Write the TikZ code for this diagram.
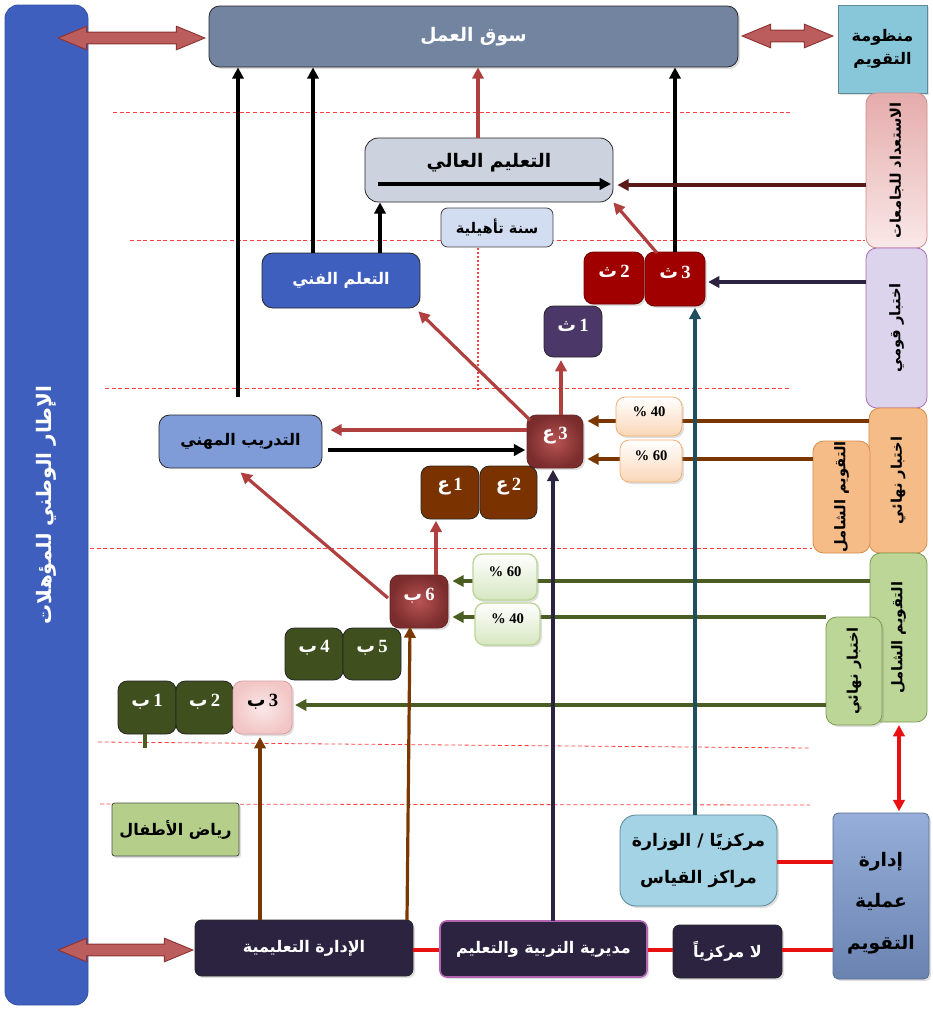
\documentclass[tikz,border=0pt]{standalone}
\usepackage{fontspec}
\setmainfont{Liberation Serif}
\newfontfamily\arfont[Script=Arabic]{DejaVu Sans}
\TeXXeTstate=1
\usetikzlibrary{arrows.meta,shapes.arrows,fit,shadows}
\newcommand{\AR}[1]{{\arfont\bfseries\beginR #1\endR}}
\newcommand{\ARL}[1]{{\arfont\bfseries #1}}
\definecolor{barblue}{HTML}{3F5FBF}
\definecolor{sooqc}{HTML}{7384A0}
\definecolor{tealc}{HTML}{88C6DA}
\definecolor{pinkc}{HTML}{F2C6C6}
\definecolor{lavc}{HTML}{DCD4EC}
\definecolor{orc}{HTML}{F09A50}
\definecolor{orl}{HTML}{F6BC88}
\definecolor{grc}{HTML}{9CC068}
\definecolor{grl}{HTML}{BCD698}
\definecolor{mgmt}{HTML}{7C9AD0}
\definecolor{cent}{HTML}{7CC0D8}
\definecolor{darkb}{HTML}{2B2340}
\definecolor{kgc}{HTML}{B5CF8A}
\definecolor{hec}{HTML}{CDD3DE}
\definecolor{sanac}{HTML}{D3DDF2}
\definecolor{tadc}{HTML}{7F9BD8}
\definecolor{thc}{HTML}{A00000}
\definecolor{th1c}{HTML}{4B3868}
\definecolor{ac}{HTML}{7A3300}
\definecolor{bc}{HTML}{3F4F1E}
\definecolor{redarr}{HTML}{B04040}
\definecolor{dredarr}{HTML}{5A1A1A}
\definecolor{navyc}{HTML}{2B2340}
\definecolor{tealarr}{HTML}{1F4E5F}
\definecolor{brownc}{HTML}{7A3800}
\definecolor{greenc}{HTML}{4A5E23}
\definecolor{brightred}{HTML}{E81010}
\begin{document}
\begin{tikzpicture}[x=0.75pt,y=-0.75pt,
  box/.style={draw=black!85, line width=0.6pt, rounded corners=6pt, inner sep=0pt},
  shad/.style={drop shadow={opacity=0.25,shadow xshift=1.5pt,shadow yshift=-1.5pt}},
  arw/.style={-{Triangle[length=8.5pt,width=8.5pt]}},
  conn/.style={line width=2.4pt},
  guide/.style={draw=red!75, line width=0.6pt, dash pattern=on 3pt off 2pt},
  dblarr/.style={double arrow, draw=redarr!80!black, line width=0.7pt,
     top color=redarr!85, middle color=pinkc, bottom color=redarr!85, shading angle=0,
     inner xsep=0pt, inner ysep=4.1pt, double arrow head extend=4.4pt, double arrow tip angle=45},
  big/.style={font=\fontsize{14}{16}\selectfont},
  mid/.style={font=\fontsize{12}{14}\selectfont},
  sml/.style={font=\fontsize{11}{13}\selectfont},
  cell/.style={box, rounded corners=7pt, text=white, font=\fontsize{14}{16}\selectfont\bfseries},
  pct/.style={box, rounded corners=7pt, shad, font=\fontsize{11}{13}\selectfont\bfseries}
]
\useasboundingbox (0,0) rectangle (932,1010);

% guide lines
\draw[guide] (113,112) -- (793,112);
\draw[guide] (130,240) -- (865,240);
\draw[guide] (105,388) -- (790,388);
\draw[guide] (90,548) -- (812,548);
\draw[guide] (98,742) -- (810,748);
\draw[guide] (100,804) -- (810,805);
\draw[draw=red!75, line width=0.8pt, dash pattern=on 1.5pt off 1.5pt] (478,248) -- (478,390);

% left bar
\node[box, fill=barblue, draw=barblue!85!black, rounded corners=10pt, fit={(5,5)(88,1005)}] (nqf) {};
\node[rotate=90, text=white, font=\fontsize{15}{17}\selectfont] at (46,505) {\AR{الإطار الوطني للمؤهلات}};

% top
\node[box, fill=sooqc, rounded corners=8pt, shad, fit={(209,6)(738,67)}] (sooq) {};
\node[text=white, big] at (sooq.center) {\AR{سوق العمل}};
\node[box, fill=tealc, draw=tealc!70!black, rounded corners=0pt, shad, fit={(838,5)(927,93)}] (nizam) {};
\node[align=center, mid] at (nizam.center) {\AR{منظومة}\\[3pt]\AR{التقويم}};

% right strips
\node[box, draw=redarr!60, top color=pinkc!80!redarr, bottom color=pinkc!40, rounded corners=8pt, fit={(866,93)(927,248)}] (isti) {};
\node[rotate=90, sml] at (isti.center) {\AR{الاستعداد للجامعات}};
\node[box, draw=lavc!50!violet, fill=lavc, rounded corners=8pt, fit={(866,248)(927,408)}] (qawmi) {};
\node[rotate=90, sml] at (qawmi.center) {\AR{اختبار قومي}};
\node[box, draw=orc!90!black, top color=orl, middle color=orc, bottom color=orl, rounded corners=8pt, fit={(869,408)(927,553)}] (nihaiO) {};
\node[rotate=90, sml] at (nihaiO.center) {\AR{اختبار نهائي}};
\node[box, draw=orc!90!black, top color=orl, middle color=orc, bottom color=orl, rounded corners=8pt, fit={(813,441)(870,553)}] (shamelO) {};
\node[rotate=90, sml] at (shamelO.center) {\AR{التقويم الشامل}};
\node[box, draw=grc!80!black, top color=grl, middle color=grc, bottom color=grl, rounded corners=8pt, fit={(870,553)(927,722)}] (shamelG) {};
\node[rotate=90, sml] at (shamelG.center) {\AR{التقويم الشامل}};
\node[box, draw=grc!80!black, top color=grl, middle color=grc, bottom color=grl, rounded corners=8pt, shad, fit={(826,617)(882,725)}] (nihaiG) {};
\node[rotate=90, sml] at (nihaiG.center) {\AR{اختبار نهائي}};

% management
\node[box, draw=mgmt!70!black, top color=mgmt!80, middle color=mgmt, bottom color=mgmt!85!black, rounded corners=4pt, shad, fit={(833,813)(929,979)}] (idara) {};
\node[align=center, font=\fontsize{14}{31}\selectfont] at (881,903) {\AR{إدارة}\\\AR{عملية}\\\AR{التقويم}};
\node[box, draw=cent!70!black, top color=cent!70, middle color=cent, bottom color=cent!70, rounded corners=12pt, shad, fit={(620,815)(777,906)}] (markazi) {};
\node[align=center, font=\fontsize{13}{28}\selectfont] at (markazi.center) {\AR{مركزيًا / الوزارة}\\\AR{مراكز القياس}};
\node[box, fill=darkb, rounded corners=5pt, shad, fit={(673,925)(782,978)}] (lamarkazi) {};
\node[text=white, mid] at (lamarkazi.center) {\AR{لا مركزياً}};
\node[box, fill=darkb, draw=violet!60, line width=1.2pt, rounded corners=5pt, shad, fit={(440,921)(647,977)}] (mudiria) {};
\node[text=white, mid] at (mudiria.center) {\AR{مديرية التربية والتعليم}};
\node[box, fill=darkb, rounded corners=5pt, shad, fit={(195,920)(413,976)}] (talimia) {};
\node[text=white, mid] at (talimia.center) {\AR{الإدارة التعليمية}};
\node[box, fill=kgc, draw=black!70, rounded corners=2pt, shad, fit={(112,803)(239,856)}] (riyad) {};
\node[mid] at (riyad.center) {\AR{رياض الأطفال}};

% middle boxes
\node[box, fill=hec, rounded corners=10pt, fit={(365,138)(613,202)}] (ali) {};
\node[big] at (489,163) {\AR{التعليم العالي}};
\node[box, fill=sanac, draw=black!75, rounded corners=5pt, fit={(441,208)(553,247)}] (sana) {};
\node[sml] at (sana.center) {\AR{سنة تأهيلية}};
\node[box, fill=barblue, rounded corners=8pt, fit={(262,253)(420,308)}] (fanni) {};
\node[text=white, mid] at (fanni.center) {\AR{التعلم الفني}};
\node[box, fill=tadc, rounded corners=8pt, fit={(159,415)(322,468)}] (tadreeb) {};
\node[mid] at (tadreeb.center) {\AR{التدريب المهني}};

% coordinates for connectors
\coordinate (c238) at (238,397);
\coordinate (c313) at (313,253);
\coordinate (c380) at (380,253);
\coordinate (c478) at (478,138);
\coordinate (hin1) at (378,184);
\coordinate (hin2) at (611,184);
\coordinate (r185) at (866,185);
\coordinate (th3tl) at (657,253);
\coordinate (q282) at (866,282);
\coordinate (m695) at (695,815);
\coordinate (a3tl) at (530,420);
\coordinate (a3t) at (561,415);
\coordinate (a3l) at (527,430);
\coordinate (td450) at (328,450);
\coordinate (o421) at (869,421);
\coordinate (o459) at (813,459);
\coordinate (n553) at (553,921);
\coordinate (b6t) at (436,575);
\coordinate (b6l) at (388,598);
\coordinate (g581) at (870,581);
\coordinate (g617) at (826,617);
\coordinate (g705) at (826,705);
\coordinate (t260) at (260,920);
\coordinate (t407) at (407,920);
\coordinate (b1b) at (145,734);
\coordinate (b1e) at (145,748);
\coordinate (i862) at (833,862);
\coordinate (i950) at (833,950);
\coordinate (m899) at (899,725);

% cells
\node[cell, fill=thc, draw=thc!70!black, shad, fit={(584,252)(644,304)}] (th2) {\ARL{ث}\,2};
\node[cell, fill=thc, draw=thc!70!black, shad, fit={(645,252)(705,306)}] (th3) {\ARL{ث}\,3};
\node[cell, fill=th1c, fit={(544,306)(602,357)}] (th1) {\ARL{ث}\,1};
\node[cell, shading=radial, inner color=redarr!90, outer color=redarr!70!black, draw=redarr!60!black, shad, fit={(527,415)(583,468)}] (a3) {\ARL{ع}\,3};
\node[cell, fill=ac, fit={(421,466)(479,519)}] (a1) {\ARL{ع}\,1};
\node[cell, fill=ac, fit={(480,466)(537,519)}] (a2) {\ARL{ع}\,2};
\node[cell, shading=radial, inner color=redarr!90, outer color=redarr!70!black, draw=redarr!60!black, shad, fit={(390,575)(448,628)}] (b6) {\ARL{ب}\,6};
\node[cell, fill=bc, fit={(285,628)(343,680)}] (b4) {\ARL{ب}\,4};
\node[cell, fill=bc, fit={(343,628)(401,680)}] (b5) {\ARL{ب}\,5};
\node[cell, fill=bc, fit={(118,681)(176,734)}] (b1) {\ARL{ب}\,1};
\node[cell, fill=bc, fit={(176,681)(233,734)}] (b2) {\ARL{ب}\,2};
\node[cell, shading=radial, inner color=pinkc!40, outer color=pinkc, draw=redarr!50, text=black, shad, fit={(233,681)(292,734)}] (b3) {\ARL{ب}\,3};

% connectors into sooq
\draw[conn, arw, black] (c238) -- (c238 |- sooq.south);
\draw[conn, arw, black] (c313) -- (c313 |- sooq.south);
\draw[conn, arw, black] (th3.north) -- (th3.north |- sooq.south);
\draw[conn, arw, redarr] (c478) -- (c478 |- sooq.south);
\draw[conn, arw, black] (c380) -- (c380 |- ali.south);
\draw[conn, arw, black] (hin1) -- (hin2);
\draw[conn, arw, dredarr] (r185) -- ([xshift=3pt]r185 -| ali.east);
\draw[conn, arw, redarr] (th3tl) -- (ali.south east);
\draw[conn, arw, navyc] (q282) -- ([xshift=2pt]q282 -| th3.east);

% middle connectors
\draw[conn, arw, redarr] (a3tl) -- ([shift={(-2,3)}]fanni.south east);
\draw[conn, arw, redarr] (a3t) -- ([yshift=-2pt]a3t |- th1.south);
\draw[conn, arw, redarr] (a3l) -- ([xshift=6pt]a3l -| tadreeb.east);
\draw[conn, arw, black] (td450) -- ([xshift=-1pt]td450 -| a3.west);
\draw[conn, arw, brownc] (o421) -- ([xshift=3pt]o421 -| a3.east);
\draw[conn, arw, brownc] (o459) -- ([xshift=3pt]o459 -| a3.east);
\draw[conn, arw, redarr] (b6t) -- ([yshift=-1pt]b6t |- a1.south);
\draw[conn, arw, redarr] (b6l) -- ([yshift=-3pt]tadreeb.south);
\draw[conn, arw, greenc] (g581) -- ([xshift=3pt]g581 -| b6.east);
\draw[conn, arw, greenc] (g617) -- ([xshift=3pt]g617 -| b6.east);
\draw[conn, arw, greenc] (g705) -- ([xshift=2pt]g705 -| b3.east);
\draw[conn, greenc] (b1b) -- (b1e);

% vertical connectors from bottom
\draw[conn, arw, navyc] (n553) -- ([yshift=-1pt]n553 |- a3.south);
\draw[conn, arw, tealarr] (m695) -- ([yshift=-1pt]m695 |- th3.south);
\draw[conn, arw, brownc] (t260) -- ([yshift=-2pt]t260 |- b3.south);
\draw[conn, arw, brownc] (t407) -- ([shift={(3,-2)}]t407 |- b6.south);

% percent boxes (over lines)
\node[pct, draw=orc!80, top color=white, bottom color=orl!60, fit={(616,397)(682,436)}] (p40o) {\% 40};
\node[pct, draw=orc!80, top color=white, bottom color=orl!60, fit={(620,440)(682,482)}] (p60o) {\% 60};
\node[pct, draw=grl, line width=1pt, top color=white, bottom color=grl!60, fit={(473,554)(537,600)}] (p60g) {\% 60};
\node[pct, draw=grl, line width=1pt, top color=white, bottom color=grl!60, fit={(475,603)(540,645)}] (p40g) {\% 40};

% management lines
\draw[conn, brightred, {Triangle[length=8.5pt,width=8.5pt]}-{Triangle[length=8.5pt,width=8.5pt]}] (m899) -- ([yshift=1pt]m899 |- idara.north);
\draw[conn, brightred] (i862) -- (i862 -| markazi.east);
\draw[conn, brightred] (i950) -- (i950 -| lamarkazi.east);
\draw[conn, brightred] (lamarkazi.west |- i950) -- (mudiria.east |- i950);
\draw[conn, brightred] (mudiria.west |- i950) -- (talimia.east |- i950);

% block double arrows
\node[dblarr, minimum height=110pt] (da1) at (131.5,38) {};
\node[dblarr, minimum height=68pt] (da2) at (787.5,36) {};
\node[dblarr, minimum height=101pt] (da3) at (125.5,950) {};
\end{tikzpicture}
\end{document}
